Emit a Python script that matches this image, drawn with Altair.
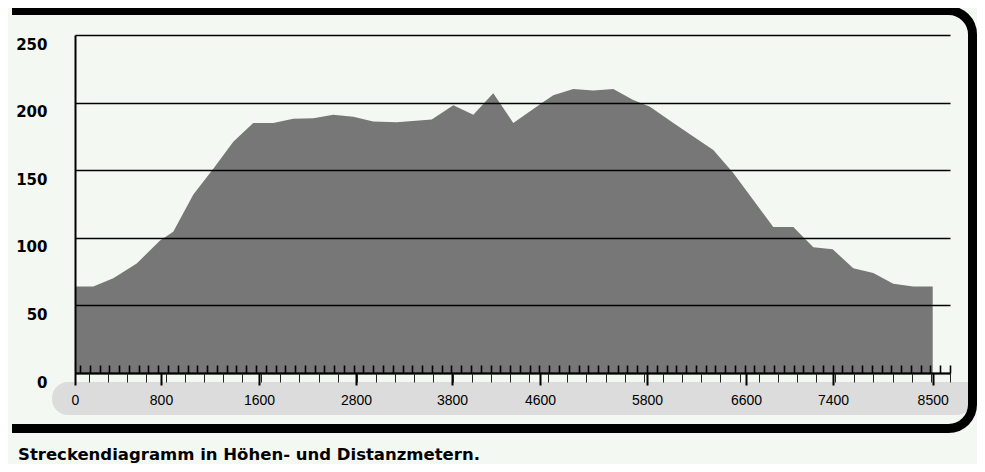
import altair as alt
import pandas as pd

# ---- data ----
distance_m = [0, 170, 356, 574, 791, 900, 1064, 1227, 1390, 1553, 1777, 2024, 2272, 2519, 2767,
              2980, 3224, 3589, 3812, 3994, 4175, 4357, 4637, 4749, 4973, 5198, 5422, 5646, 5824,
              6013, 6174, 6336, 6497, 6667, 6851, 7035, 7219, 7397, 7624, 7845, 8065, 8286, 8500]
elevation_m = [64, 64, 70, 81, 98, 104.5, 132, 151, 171, 185, 185, 188, 188.5, 191, 189.5,
               186, 185.5, 187.5, 198, 191, 207, 185, 200.5, 205.5, 210, 209, 210, 202, 197,
               185, 175, 165, 148, 128, 108, 108, 93, 91.5, 77.5, 74, 66, 64, 64]

x_label_values = [0, 800, 1600, 2800, 3800, 4600, 5800, 6600, 7400, 8500]
y_tick_values = [0, 50, 100, 150, 200, 250]
ruler_up_steps = list(range(90))
ruler_down_steps = list(range(46))
caption = ["Streckendiagramm in Höhen- und Distanzmetern."]

# ---- layout / style ----
W, H = 875, 338
BG = "#f4f8f2"
AREA = "#777777"
PILL = "#dcdcdc"
# piecewise distance scale: label values -> pixel positions, plus the ruler's end
x_scale_domain = x_label_values + [8691]
x_scale_px = [0, 86, 184, 281, 377, 465, 572, 671, 758, 857.7, W]

df = pd.DataFrame({"dist": distance_m, "elev": elevation_m})
one = pd.DataFrame({"k": [0]})

x_scale = alt.Scale(type="linear", domain=x_scale_domain, range=x_scale_px, nice=False, zero=False)
y_scale = alt.Scale(domain=[0, 250], nice=False, zero=True)

pill = alt.Chart(one).mark_rect(
    color=PILL, cornerRadiusTopLeft=16, cornerRadiusBottomLeft=16, cornerRadiusBottomRight=20
).encode(x=alt.value(-23), x2=alt.value(898), y=alt.value(347), y2=alt.value(380))

frame = alt.Chart(one).mark_rect(
    fill=BG, fillOpacity=0, stroke="black", strokeWidth=9, cornerRadius=24
).encode(x=alt.value(-120), x2=alt.value(897.5), y=alt.value(-24.5), y2=alt.value(393.5))

cover = alt.Chart(one).mark_rect(color=BG).encode(
    x=alt.value(-80), x2=alt.value(-63), y=alt.value(-40), y2=alt.value(420)
)

area = alt.Chart(df).mark_area(color=AREA, opacity=1, interpolate="linear").encode(
    x=alt.X("dist:Q", scale=x_scale,
            axis=alt.Axis(values=x_label_values, title=None, orient="bottom", format="d",
                          domain=True, domainColor="black", domainWidth=2,
                          ticks=True, tickSize=12, tickWidth=2, tickColor="black",
                          labels=True, labelFont="Liberation Sans", labelFontSize=14,
                          labelColor="black", labelPadding=8, labelFlush=False,
                          labelOverlap=False, grid=False, zindex=2)),
    y=alt.Y("elev:Q", scale=y_scale,
            axis=alt.Axis(values=y_tick_values, title=None, domain=True,
                          domainColor="black", domainWidth=2, ticks=False,
                          labelFont="DejaVu Sans", labelFontWeight="bold", labelFontSize=15,
                          labelColor="black", labelPadding=28, labelOffset=9,
                          grid=True, gridColor="black", gridWidth=1.4, gridOpacity=1,
                          zindex=1)),
)

ruler_up = alt.Chart(pd.DataFrame({"s": ruler_up_steps})).mark_point(opacity=0).encode(
    x=alt.X("s:Q", scale=alt.Scale(domain=[0, 89], range=[5, W], nice=False, zero=False),
            axis=alt.Axis(orient="bottom", offset=-8, values=ruler_up_steps, tickSize=8,
                          tickWidth=1.6, tickColor="black", domain=False, labels=False,
                          grid=False, title=None, zindex=2))
)

ruler_down = alt.Chart(pd.DataFrame({"s": ruler_down_steps})).mark_point(opacity=0).encode(
    x=alt.X("s:Q", scale=alt.Scale(domain=[0, 45], range=[14, W], nice=False, zero=False),
            axis=alt.Axis(orient="bottom", offset=0, values=ruler_down_steps, tickSize=9,
                          tickWidth=1, tickColor="#222222", domain=False, labels=False,
                          grid=False, title=None, zindex=2))
)

cap = alt.Chart(pd.DataFrame({"t": caption})).mark_text(
    align="left", baseline="alphabetic", font="DejaVu Sans", fontWeight="bold",
    fontSize=16.5, color="black"
).encode(x=alt.value(-57), y=alt.value(424.5), text="t:N")

chart = alt.layer(pill, frame, cover, area, ruler_up, ruler_down, cap).resolve_scale(
    x="independent"
).resolve_axis(x="independent").properties(
    width=W, height=H, background=BG,
    autosize=alt.AutoSizeParams(type="none"),
    padding={"left": 67, "top": 27, "right": 27, "bottom": 91},
).configure_view(strokeOpacity=0)

chart.save("out.html", embed_options={"renderer": "svg", "actions": False})
